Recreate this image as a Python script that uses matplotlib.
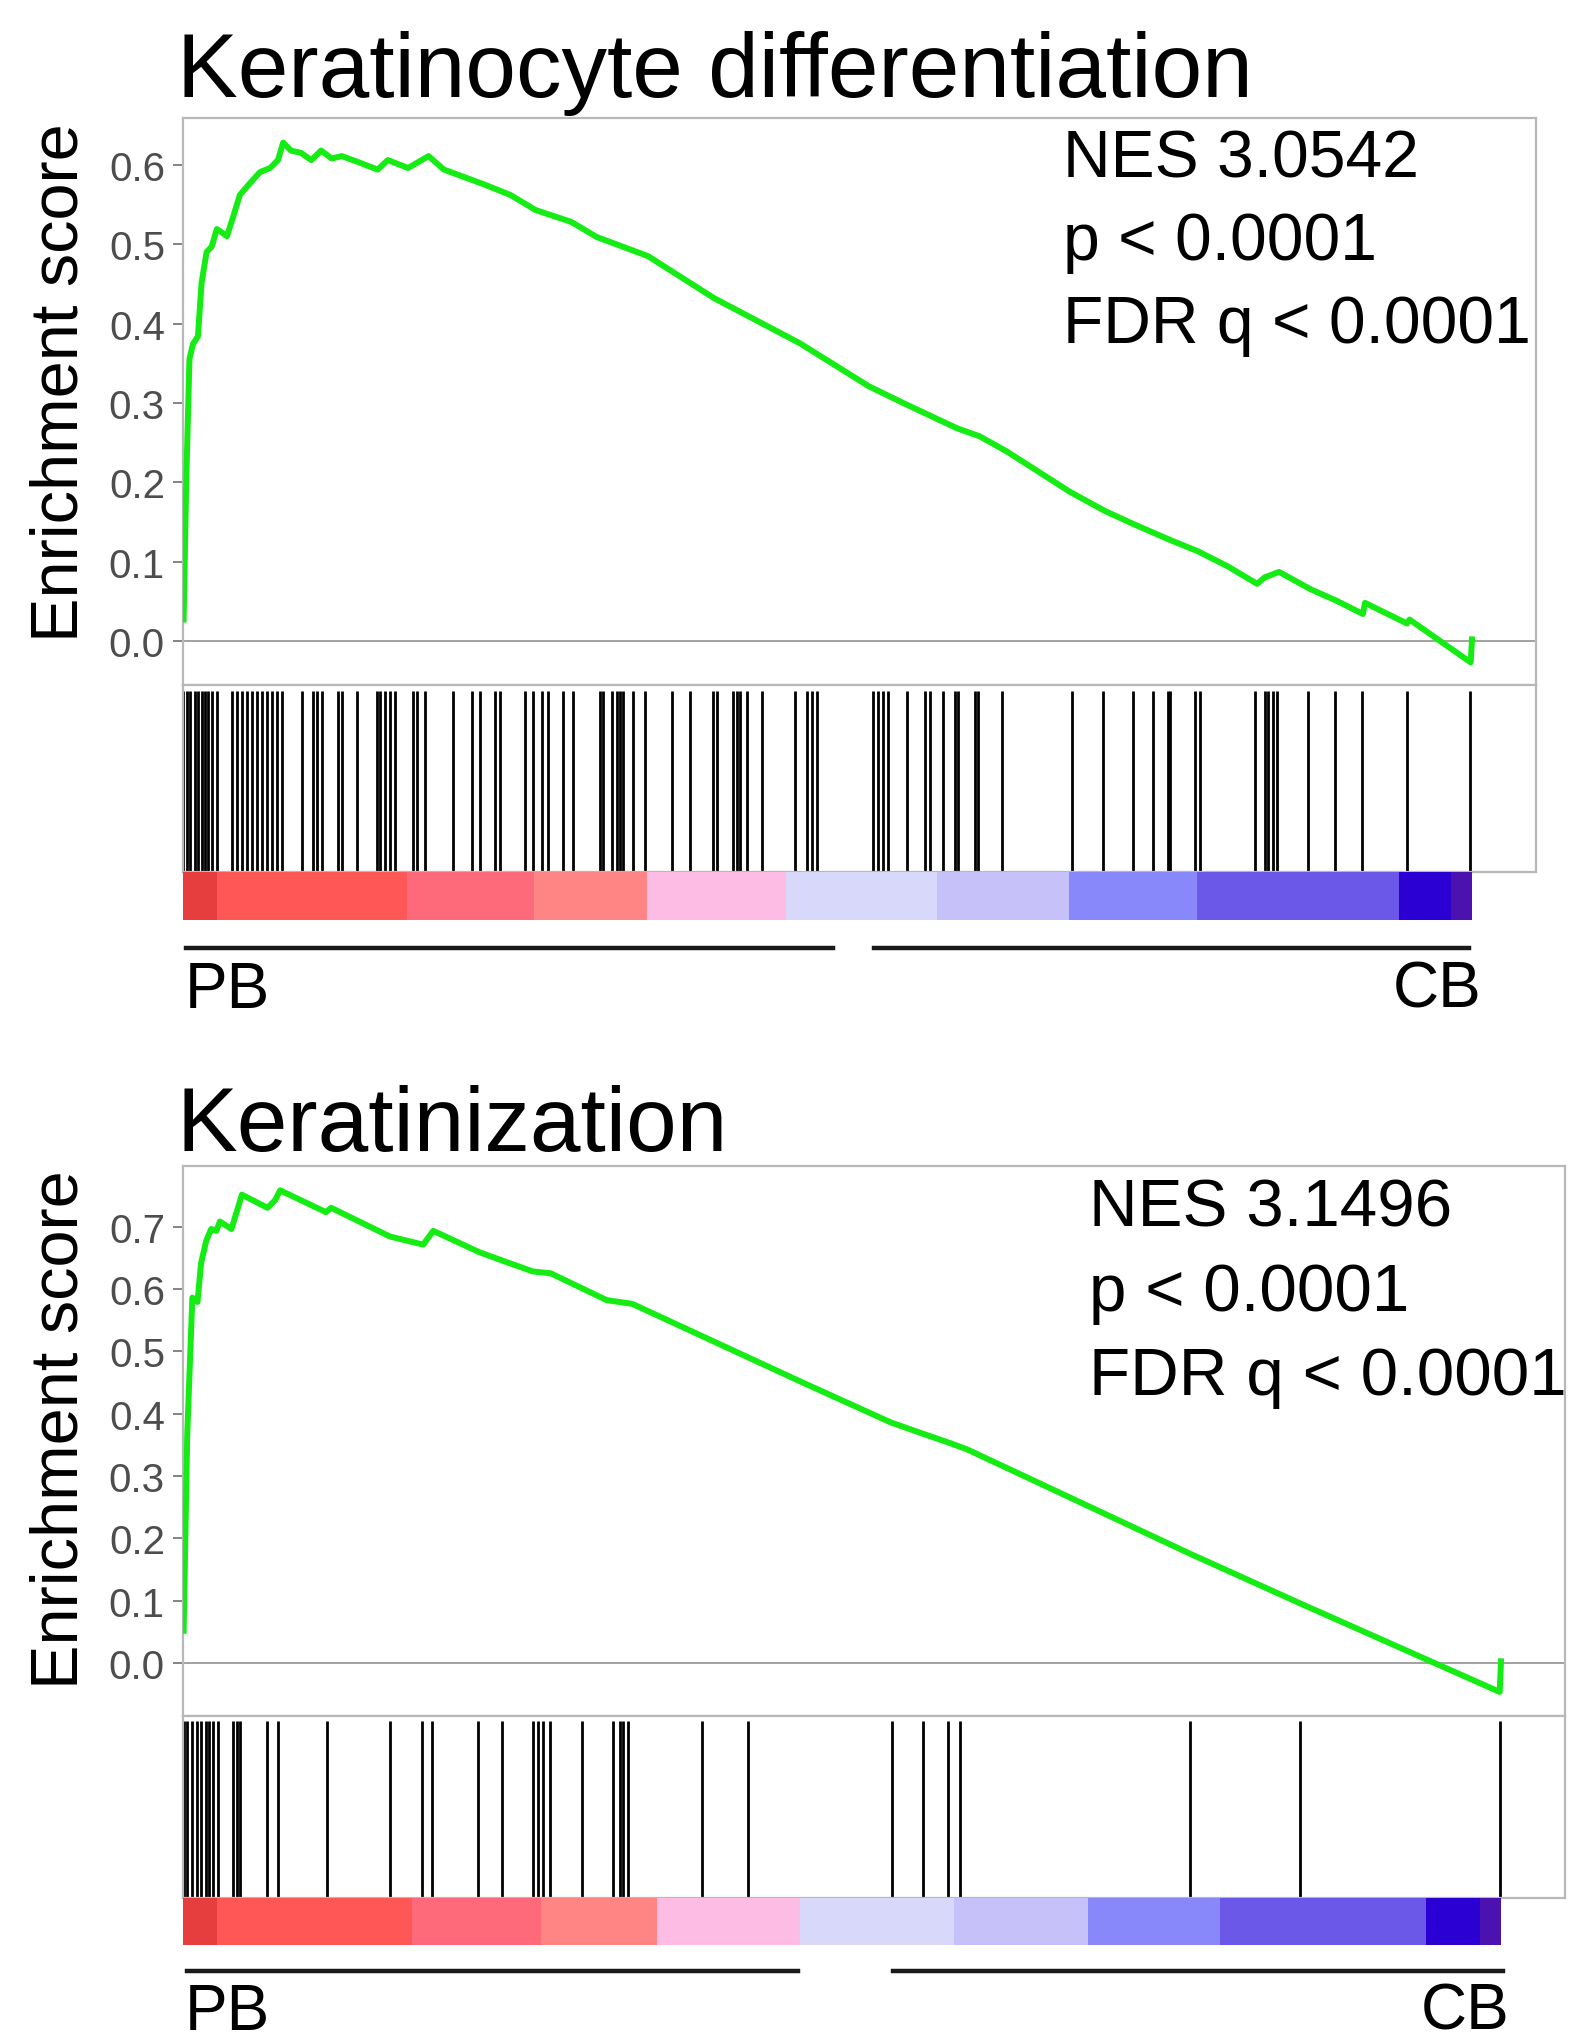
import matplotlib
matplotlib.use('Agg')
import matplotlib.pyplot as plt
from matplotlib.lines import Line2D

plt.rcParams['font.family'] = ['Liberation Sans', 'DejaVu Sans']

# ---------------- data ----------------
titles = ["Keratinocyte differentiation", "Keratinization"]
nes_values = ["NES 3.0542", "NES 3.1496"]
p_texts = ["p < 0.0001", "p < 0.0001"]
fdr_texts = ["FDR q < 0.0001", "FDR q < 0.0001"]
group_labels = ["PB", "CB"]

# running enrichment score, x = position in ranked list (%)
es1_x = [0.05, 0.25, 0.5, 0.77, 1.16, 1.44, 1.83, 2.23, 2.62, 3.0, 3.41, 3.9, 4.41, 5.2,
         5.99, 6.76, 7.37, 7.77, 8.37, 9.16, 9.95, 10.72, 11.53, 12.32, 13.5, 15.1, 15.89,
         17.46, 19.05, 20.24, 23.41, 25.4, 27.36, 30.13, 32.1, 36.07, 41.2, 47.87, 53.2,
         55.86, 57.95, 60.05, 61.79, 63.89, 68.8, 71.5, 73.78, 76.47, 78.74, 81.05, 83.33,
         83.9, 85.03, 87.5, 89.45, 91.54, 91.7, 94.96, 95.15, 99.9, 100.0]
es1_y = [0.027, 0.20, 0.355, 0.374, 0.384, 0.451, 0.49, 0.497, 0.519, 0.515, 0.510, 0.535,
         0.562, 0.577, 0.591, 0.596, 0.606, 0.628, 0.618, 0.615, 0.606, 0.618, 0.608, 0.611,
         0.604, 0.594, 0.606, 0.596, 0.611, 0.594, 0.575, 0.562, 0.543, 0.528, 0.509, 0.485,
         0.432, 0.375, 0.321, 0.300, 0.284, 0.268, 0.258, 0.239, 0.188, 0.164, 0.147, 0.128,
         0.113, 0.094, 0.072, 0.080, 0.087, 0.065, 0.051, 0.034, 0.048, 0.022, 0.027, -0.027,
         0.002]

es2_x = [0.05, 0.32, 0.48, 0.71, 1.1, 1.37, 1.76, 2.14, 2.53, 2.8, 3.68, 4.47, 6.41, 6.98,
         7.37, 10.85, 11.24, 15.7, 18.22, 18.99, 22.47, 24.41, 26.54, 27.9, 32.15, 34.09,
         46.8, 53.7, 56.12, 58.18, 59.47, 76.46, 84.86, 99.9, 100.0]
es2_y = [0.052, 0.365, 0.457, 0.586, 0.579, 0.641, 0.677, 0.696, 0.693, 0.708, 0.696, 0.751,
         0.730, 0.742, 0.758, 0.723, 0.730, 0.684, 0.671, 0.693, 0.659, 0.644, 0.628, 0.625,
         0.582, 0.576, 0.452, 0.386, 0.368, 0.353, 0.343, 0.175, 0.095, -0.046, 0.003]

# positions of gene-set members in the ranked list (%)
hits1 = [0.0, 0.31, 0.54, 0.93, 1.16, 1.47, 1.71, 1.94, 2.25, 2.64, 3.80, 4.19, 4.58, 4.96,
         5.35, 5.74, 6.13, 6.52, 6.91, 7.29, 7.68, 9.23, 10.09, 10.40, 10.78, 12.02, 12.34,
         13.50, 15.05, 15.28, 15.67, 16.06, 16.45, 17.84, 18.15, 18.77, 20.95, 22.42, 23.04,
         24.20, 24.59, 26.53, 27.15, 27.85, 28.32, 29.48, 30.26, 32.35, 32.58, 33.28, 33.67,
         33.90, 34.14, 34.91, 35.84, 37.94, 39.33, 41.12, 41.43, 42.67, 42.98, 43.21, 43.75,
         44.92, 47.48, 48.41, 48.80, 49.19, 53.53, 53.92, 54.31, 54.69, 56.17, 57.56, 57.95,
         58.96, 59.89, 60.12, 61.44, 61.68, 63.54, 68.97, 71.37, 73.70, 75.25, 76.42, 76.57,
         78.51, 78.90, 83.16, 83.94, 84.17, 84.56, 84.87, 87.28, 89.37, 91.47, 94.96, 99.84]
hits2 = [0.11, 0.34, 0.65, 1.10, 1.40, 1.78, 2.01, 2.24, 2.62, 3.76, 4.06, 4.29, 6.41, 7.17,
         10.89, 15.67, 18.10, 18.86, 22.35, 24.17, 26.53, 26.91, 27.29, 27.82, 30.25, 32.60,
         33.13, 33.36, 33.74, 39.35, 42.85, 53.78, 56.13, 58.03, 58.94, 76.40, 84.74, 99.92]

# ranked-metric colour bar segments (% boundaries) and colours
seg_edges = [0, 2.6, 17.4, 27.2, 36.0, 46.8, 58.5, 68.7, 78.7, 94.3, 98.4, 100]
seg_colors = ['#e63e3e', '#ff5656', '#ff6a7a', '#ff8585', '#fcbce3', '#d8d8fa',
              '#c6c1f9', '#8888fa', '#6b58e9', '#2b00d2', '#4c12b0']

# ---------------- layout (pixels) ----------------
W, H = 1571, 2040
GREEN = '#14ec14'
FRAME = '#b8b8b8'
TICKC = '#4d4d4d'

panels = [
    dict(es=(183, 119, 1536, 686), bc=(183, 686, 1536, 873), cb=(183, 873, 1472, 921),
         yticks=[0.0, 0.1, 0.2, 0.3, 0.4, 0.5, 0.6], ylim=(-0.0555, 0.659),
         title=(177, 97), stats_x=1063, stats_y=(177, 260, 343), stats_fs=47.5,
         ylab=(61, 383), br_y=949, br_pb=(0.2, 50.4), br_cb=(53.6, 99.8),
         lab_y=1008, pb_x=185, cb_x=1481,
         es_x=es1_x, es_y=es1_y, hits=hits1),
    dict(es=(183, 1167, 1565, 1717), bc=(183, 1717, 1565, 1899), cb=(183, 1899, 1501, 1946),
         yticks=[0.0, 0.1, 0.2, 0.3, 0.4, 0.5, 0.6, 0.7], ylim=(-0.0846, 0.797),
         title=(177, 1151), stats_x=1089, stats_y=(1227, 1311, 1395), stats_fs=48.5,
         ylab=(61, 1430), br_y=1972, br_pb=(0.34, 46.65), br_cb=(53.85, 100.15),
         lab_y=2030, pb_x=185, cb_x=1510,
         es_x=es2_x, es_y=es2_y, hits=hits2),
]


def rect(box):
    x0, y0, x1, y1 = box
    return [x0 / W, 1 - y1 / H, (x1 - x0) / W, (y1 - y0) / H]


fig = plt.figure(figsize=(W / 100, H / 100), dpi=100)
fig.patch.set_facecolor('white')

for i, p in enumerate(panels):
    data_w = p['cb'][2] - p['cb'][0]
    xmax = 100 * (p['es'][2] - p['es'][0]) / data_w

    # enrichment score axes
    ax = fig.add_axes(rect(p['es']))
    ax.plot(p['es_x'], p['es_y'], color=GREEN, lw=4.3, solid_joinstyle='round', zorder=3)
    ax.axhline(0, color='#9a9a9a', lw=1.3, zorder=2)
    ax.set_xlim(0, xmax)
    ax.set_ylim(*p['ylim'])
    ax.set_yticks(p['yticks'])
    ax.set_yticklabels([f"{v:.1f}" for v in p['yticks']])
    ax.set_xticks([])
    ax.tick_params(axis='y', length=7, width=1.3, color='#7a7a7a', labelsize=29,
                   labelcolor=TICKC, pad=6)
    for s in ax.spines.values():
        s.set_color(FRAME)
        s.set_linewidth(1.6)

    # barcode axes
    bx = fig.add_axes(rect(p['bc']))
    bx.vlines(p['hits'], 0, 0.97, color='black', lw=2.0)
    bx.set_xlim(0, xmax)
    bx.set_ylim(0, 1)
    bx.set_xticks([])
    bx.set_yticks([])
    for s in bx.spines.values():
        s.set_color(FRAME)
        s.set_linewidth(1.6)

    # ranked metric colour bar
    cx = fig.add_axes(rect(p['cb']))
    lefts = seg_edges[:-1]
    widths = [b - a for a, b in zip(seg_edges[:-1], seg_edges[1:])]
    cx.bar(lefts, [1] * len(lefts), width=widths, align='edge', color=seg_colors,
           edgecolor='none', linewidth=0)
    cx.set_xlim(0, 100)
    cx.set_ylim(0, 1)
    cx.axis('off')

    # group brackets
    bry = 1 - p['br_y'] / H
    x0px = p['cb'][0]
    for a, b in (p['br_pb'], p['br_cb']):
        xa = (x0px + a / 100 * data_w) / W
        xb = (x0px + b / 100 * data_w) / W
        fig.add_artist(Line2D([xa, xb], [bry, bry], color='#1a1a1a', lw=3.2,
                              transform=fig.transFigure))
    fig.text(p['pb_x'] / W, 1 - p['lab_y'] / H, group_labels[0], fontsize=46,
             ha='left', va='baseline')
    fig.text(p['cb_x'] / W, 1 - p['lab_y'] / H, group_labels[1], fontsize=46,
             ha='right', va='baseline')

    # title
    fig.text(p['title'][0] / W, 1 - p['title'][1] / H, titles[i], fontsize=65.5,
             ha='left', va='baseline')

    # stats text
    for txt, yb in zip([nes_values[i], p_texts[i], fdr_texts[i]], p['stats_y']):
        fig.text(p['stats_x'] / W, 1 - yb / H, txt, fontsize=p['stats_fs'],
                 ha='left', va='baseline')

    # y label
    fig.text(p['ylab'][0] / W, 1 - p['ylab'][1] / H, 'Enrichment score', fontsize=48,
             rotation=90, ha='center', va='center')

fig.savefig('out.png', dpi=100, facecolor='white')
